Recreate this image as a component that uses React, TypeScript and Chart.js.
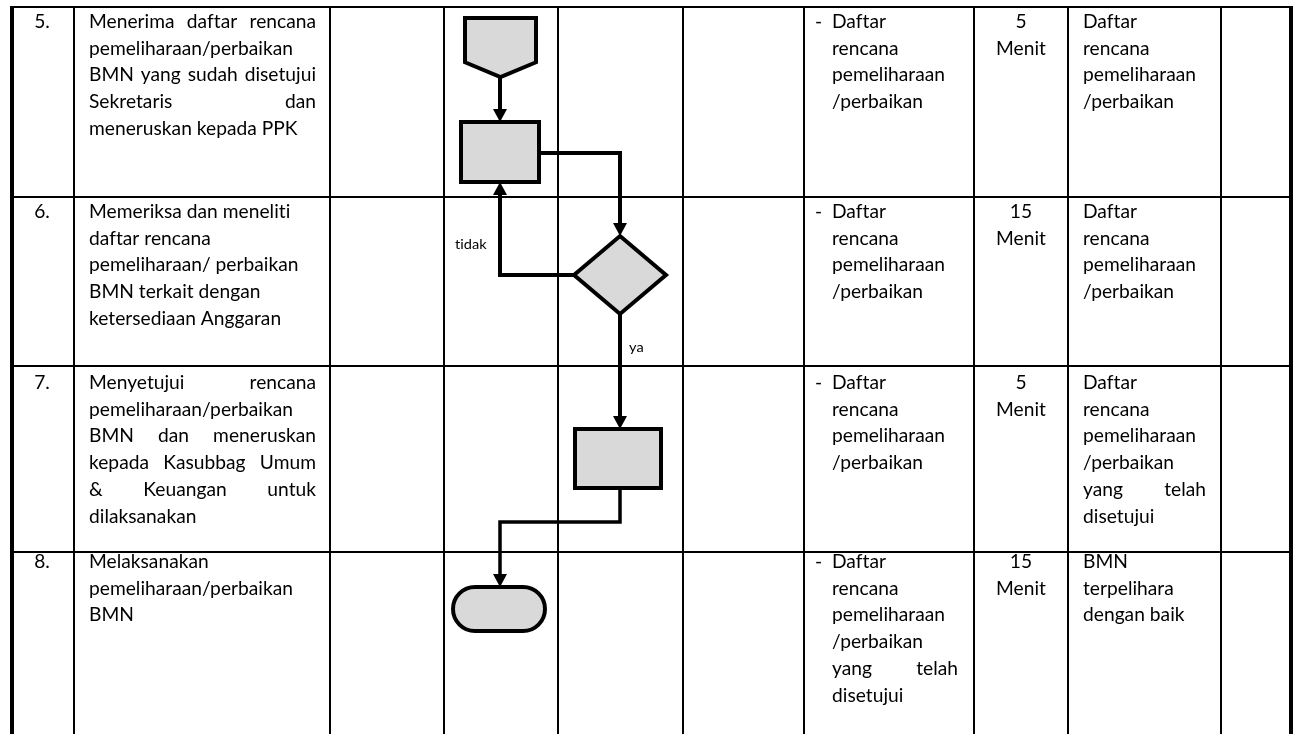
import React, { useEffect, useRef } from "react";
import { Chart, registerables } from "chart.js";

Chart.register(...registerables);

// ---------- DATA ----------
const stepNumbers = ["5.", "6.", "7.", "8."];

const activityLines = [
  ["Menerima daftar rencana", "pemeliharaan/perbaikan", "BMN yang sudah disetujui", "Sekretaris dan", "meneruskan kepada PPK"],
  ["Memeriksa dan meneliti", "daftar rencana", "pemeliharaan/ perbaikan", "BMN terkait dengan", "ketersediaan Anggaran"],
  ["Menyetujui rencana", "pemeliharaan/perbaikan", "BMN dan meneruskan", "kepada Kasubbag Umum", "& Keuangan untuk", "dilaksanakan"],
  ["Melaksanakan", "pemeliharaan/perbaikan", "BMN"],
];
const activityJustified = [true, false, true, false];

const inputLines = [
  ["Daftar", "rencana", "pemeliharaan", "/perbaikan"],
  ["Daftar", "rencana", "pemeliharaan", "/perbaikan"],
  ["Daftar", "rencana", "pemeliharaan", "/perbaikan"],
  ["Daftar", "rencana", "pemeliharaan", "/perbaikan", "yang telah", "disetujui"],
];

const durationValues = ["5", "15", "5", "15"];
const durationUnit = "Menit";

const outputLines = [
  ["Daftar", "rencana", "pemeliharaan", "/perbaikan"],
  ["Daftar", "rencana", "pemeliharaan", "/perbaikan"],
  ["Daftar", "rencana", "pemeliharaan", "/perbaikan", "yang telah", "disetujui"],
  ["BMN", "terpelihara", "dengan baik"],
];

const decisionNo = "tidak";
const decisionYes = "ya";

// Flow nodes (kind + bounding box in chart units)
const nodeKinds = ["offpage", "process", "decision", "process", "terminator"];
const nodeBoxes = [
  [465, 18, 536, 77],
  [461, 122, 539, 182],
  [574, 236, 666, 314],
  [575, 429, 661, 488],
  [453, 587, 545, 631],
];
// Connectors (polylines, arrow at the end)
const edgePaths = [
  [[500, 77], [500, 122]],
  [[539, 153], [620, 153], [620, 236]],
  [[574, 275], [500, 275], [500, 182]],
  [[620, 314], [620, 429]],
  [[620, 488], [620, 522], [500, 522], [500, 587]],
];

// ---------- LAYOUT ----------
const W = 1304;
const H = 734;
const colLines = [12, 74, 330, 444, 558, 683, 804, 974, 1068, 1221, 1291];
const rowLines = [7, 197, 366, 552];
const firstBaselines = [28, 218, 389, 568];
const lineHeight = 26.7;
const FONT = "Lato, 'Liberation Sans', sans-serif";
const BASE_SIZE = 18.6;

let HS = 1;

function tw(ctx: CanvasRenderingContext2D, s: string) {
  return ctx.measureText(s).width * HS;
}

function txt(ctx: CanvasRenderingContext2D, s: string, x: number, y: number) {
  ctx.save();
  ctx.translate(x, y);
  ctx.scale(HS, 1);
  ctx.textAlign = "left";
  ctx.fillText(s, 0, 0);
  ctx.restore();
}

function txtCenter(ctx: CanvasRenderingContext2D, s: string, cx: number, y: number) {
  txt(ctx, s, cx - tw(ctx, s) / 2, y);
}

function drawLine(ctx: CanvasRenderingContext2D, words: string, x0: number, x1: number, y: number, justify: boolean) {
  const parts = words.split(" ").filter((p) => p.length > 0);
  if (!justify || parts.length < 2) {
    txt(ctx, words, x0, y);
    return;
  }
  const widths = parts.map((p) => tw(ctx, p));
  const total = widths.reduce((a, b) => a + b, 0);
  const gap = (x1 - x0 - total) / (parts.length - 1);
  let x = x0;
  parts.forEach((p, i) => {
    txt(ctx, p, x, y);
    x += widths[i] + gap;
  });
}

const tablePlugin = {
  id: "flowTable",
  beforeDraw(chart: any) {
    const ctx: CanvasRenderingContext2D = chart.ctx;
    ctx.save();
    ctx.fillStyle = "#ffffff";
    ctx.fillRect(0, 0, chart.width, chart.height);
    ctx.restore();
  },
  afterDatasetsDraw(chart: any) {
    const ctx: CanvasRenderingContext2D = chart.ctx;
    const sx = chart.scales.x;
    const sy = chart.scales.y;
    const X = (v: number) => sx.getPixelForValue(v);
    const Y = (v: number) => sy.getPixelForValue(v);
    ctx.save();

    // grid
    ctx.strokeStyle = "#000";
    ctx.lineCap = "butt";
    colLines.forEach((c, i) => {
      const outer = i === 0 || i === colLines.length - 1;
      ctx.lineWidth = outer ? 4 : 2;
      ctx.beginPath();
      ctx.moveTo(X(c), Y(rowLines[0] - 1));
      ctx.lineTo(X(c), Y(H));
      ctx.stroke();
    });
    ctx.lineWidth = 2;
    rowLines.forEach((r) => {
      ctx.beginPath();
      ctx.moveTo(X(colLines[0]), Y(r));
      ctx.lineTo(X(colLines[colLines.length - 1]), Y(r));
      ctx.stroke();
    });

    // font fitting (Calibri-like proportions)
    (ctx as any).letterSpacing = "0.01px";
    ctx.font = `${BASE_SIZE}px ${FONT}`;
    const m = ctx.measureText("pemeliharaan/perbaikan").width;
    HS = 204 / m;
    ctx.fillStyle = "#000";
    ctx.textBaseline = "alphabetic";

    for (let r = 0; r < stepNumbers.length; r++) {
      const b0 = firstBaselines[r];
      txtCenter(ctx, stepNumbers[r], X(42), Y(b0));
      // activity
      const al = activityLines[r];
      al.forEach((ln, i) => {
        drawLine(ctx, ln, X(89), X(316), Y(b0 + i * lineHeight), activityJustified[r] && i < al.length - 1);
      });
      // input
      const il = inputLines[r];
      txt(ctx, "-", X(815), Y(b0));
      il.forEach((ln, i) => {
        drawLine(ctx, ln, X(832), X(958), Y(b0 + i * lineHeight), i < il.length - 1);
      });
      // duration
      txtCenter(ctx, durationValues[r], X(1021), Y(b0));
      txtCenter(ctx, durationUnit, X(1021), Y(b0 + lineHeight));
      // output
      const ol = outputLines[r];
      ol.forEach((ln, i) => {
        drawLine(ctx, ln, X(1083), X(1206), Y(b0 + i * lineHeight), i < ol.length - 1);
      });
    }

    // edges
    ctx.strokeStyle = "#000";
    ctx.lineJoin = "miter";
    const AH = 13;
    const AW = 7;
    edgePaths.forEach((pts, ei) => {
      ctx.lineWidth = ei === 4 ? 3.5 : 4;
      ctx.beginPath();
      const n = pts.length;
      const [lx, ly] = pts[n - 1];
      const [px, py] = pts[n - 2];
      const dx = Math.sign(lx - px);
      const dy = Math.sign(ly - py);
      pts.forEach(([x, y], i) => {
        let xx = x;
        let yy = y;
        if (i === n - 1) {
          xx = x - dx * AH;
          yy = y - dy * AH;
        }
        if (i === 0) ctx.moveTo(X(xx), Y(yy));
        else ctx.lineTo(X(xx), Y(yy));
      });
      ctx.stroke();
    });

    // nodes
    ctx.lineWidth = 4;
    ctx.fillStyle = "#d9d9d9";
    nodeKinds.forEach((k, i) => {
      const [x0, y0, x1, y1] = nodeBoxes[i];
      ctx.beginPath();
      if (k === "offpage") {
        const cx = (x0 + x1) / 2;
        const sh = y1 - (y1 - y0) * 0.25;
        ctx.moveTo(X(x0), Y(y0));
        ctx.lineTo(X(x1), Y(y0));
        ctx.lineTo(X(x1), Y(sh));
        ctx.lineTo(X(cx), Y(y1));
        ctx.lineTo(X(x0), Y(sh));
        ctx.closePath();
      } else if (k === "process") {
        ctx.rect(X(x0), Y(y0), X(x1) - X(x0), Y(y1) - Y(y0));
      } else if (k === "decision") {
        const cx = (x0 + x1) / 2;
        const cy = (y0 + y1) / 2;
        ctx.moveTo(X(cx), Y(y0));
        ctx.lineTo(X(x1), Y(cy));
        ctx.lineTo(X(cx), Y(y1));
        ctx.lineTo(X(x0), Y(cy));
        ctx.closePath();
      } else {
        const rr = (Y(y1) - Y(y0)) / 2;
        ctx.roundRect(X(x0), Y(y0), X(x1) - X(x0), Y(y1) - Y(y0), rr);
      }
      ctx.fill();
      ctx.stroke();
    });

    // arrowheads
    ctx.fillStyle = "#000";
    edgePaths.forEach((pts) => {
      const n = pts.length;
      const [lx, ly] = pts[n - 1];
      const [px, py] = pts[n - 2];
      const dx = Math.sign(lx - px);
      const dy = Math.sign(ly - py);
      const bx = lx - dx * AH;
      const by = ly - dy * AH;
      ctx.beginPath();
      ctx.moveTo(X(lx), Y(ly));
      ctx.lineTo(X(bx + dy * AW), Y(by + dx * AW));
      ctx.lineTo(X(bx - dy * AW), Y(by - dx * AW));
      ctx.closePath();
      ctx.fill();
    });

    // decision labels
    ctx.font = `${BASE_SIZE * 0.76}px ${FONT}`;
    txt(ctx, decisionNo, X(455), Y(249));
    txt(ctx, decisionYes, X(629), Y(352));

    ctx.restore();
  },
};

export default function App() {
  const ref = useRef<HTMLCanvasElement | null>(null);
  useEffect(() => {
    if (!ref.current) return;
    const chart = new Chart(ref.current, {
      type: "scatter",
      data: {
        datasets: [
          {
            data: nodeBoxes.map((b) => ({ x: (b[0] + b[2]) / 2, y: (b[1] + b[3]) / 2 })),
            pointRadius: 0,
            pointHoverRadius: 0,
          },
        ],
      },
      options: {
        animation: false,
        responsive: false,
        maintainAspectRatio: false,
        layout: { padding: 0 },
        events: [],
        scales: {
          x: { type: "linear", min: 0, max: W, display: false },
          y: { type: "linear", min: 0, max: H, reverse: true, display: false },
        },
        plugins: { legend: { display: false }, tooltip: { enabled: false } },
      },
      plugins: [tablePlugin],
    });
    return () => chart.destroy();
  }, []);
  return (
    <div style={{ position: "fixed", left: 0, top: 0, width: W, height: H, background: "#fff" }}>
      <canvas ref={ref} width={W} height={H} style={{ display: "block" }} />
    </div>
  );
}
